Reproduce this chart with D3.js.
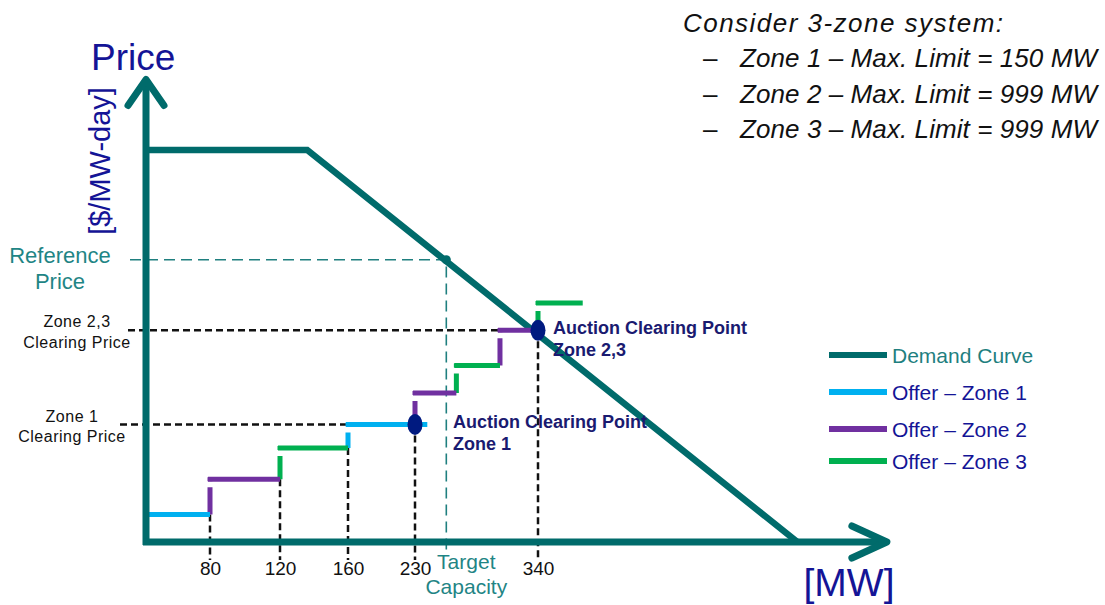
<!DOCTYPE html>
<html>
<head>
<meta charset="utf-8">
<script src="https://cdn.jsdelivr.net/npm/d3@7/dist/d3.min.js"></script>
<style>
  body { margin: 0; background: #fff; }
  text { font-family: "Liberation Sans", Arial, sans-serif; }
</style>
</head>
<body>
<svg width="1105" height="605"></svg>
<script>
// x positions are schematic (not to scale), so the MW scale is piecewise
var tickMW = [80, 120, 160, 230, 340];

// offer curve steps
var stepFrom = [0, 80, 120, 160, 230, 267, 306, 340];
var stepTo = [80, 120, 160, 241, 267, 306, 340, 380];
var stepPrice = [7, 16, 24, 30, 38, 45, 54, 61];
var stepZone = [1, 2, 3, 1, 2, 3, 2, 3];

// demand curve (VRR style)
var demandMW = [0, 136, 572];
var demandPrice = [100, 100, 0];

var refMW = 258, refPrice = 72;
var clearMW = [230, 340], clearPrice = [30, 54];
var dropPrice = [7, 16, 24, 30, 54];

var legendNames = ["Demand Curve", "Offer \u2013 Zone 1", "Offer \u2013 Zone 2", "Offer \u2013 Zone 3"];
var zoneLines = ["Zone 1 \u2013 Max. Limit = 150 MW", "Zone 2 \u2013 Max. Limit = 999 MW", "Zone 3 \u2013 Max. Limit = 999 MW"];

var teal = "#006b6b", navy = "#141496";
var zoneColor = { 1: "#00b0f0", 2: "#7030a0", 3: "#00b050" };

var svg = d3.select("svg");

var x = d3.scaleLinear()
  .domain([0, 80, 120, 160, 230, 340])
  .range([146, 210, 280, 348, 415, 538]);
var y = d3.scaleLinear().domain([0, 100]).range([542, 150]);

var xEnd = 652, yTop = 118;

// reference price / target capacity guides
svg.append("path")
  .attr("d", "M" + (x(0) - 16) + "," + y(refPrice) + "H" + x(refMW) + "V" + (y(0) + 14))
  .attr("fill", "none").attr("stroke", "#1f7f7f").attr("stroke-width", 1.6)
  .attr("stroke-dasharray", "11,6");

// clearing price guides
svg.append("line")
  .attr("x1", x(0) - 26).attr("x2", x(160))
  .attr("y1", y(clearPrice[0])).attr("y2", y(clearPrice[0]))
  .attr("stroke", "#111").attr("stroke-width", 2.5).attr("stroke-dasharray", "7,4");
svg.append("line")
  .attr("x1", x(0) - 18).attr("x2", x(306))
  .attr("y1", y(clearPrice[1])).attr("y2", y(clearPrice[1]))
  .attr("stroke", "#111").attr("stroke-width", 2.5).attr("stroke-dasharray", "7,4");

// drop lines to the MW ticks
svg.selectAll(".drop")
  .data(tickMW)
  .enter().append("line")
  .attr("class", "drop")
  .attr("x1", function (d) { return x(d); })
  .attr("x2", function (d) { return x(d); })
  .attr("y1", function (d, i) { return y(dropPrice[i]); })
  .attr("y2", y(0) + 18)
  .attr("stroke", "#111").attr("stroke-width", 2.5).attr("stroke-dasharray", "7,4");

// demand curve
svg.append("path")
  .datum(d3.range(demandMW.length))
  .attr("d", d3.line()
    .x(function (i) { return x(demandMW[i]); })
    .y(function (i) { return y(demandPrice[i]); }))
  .attr("fill", "none").attr("stroke", teal).attr("stroke-width", 6.5);

// offer steps: risers then horizontals
var steps = d3.range(stepFrom.length);
svg.selectAll(".riser")
  .data(steps.slice(1))
  .enter().append("line")
  .attr("class", "riser")
  .attr("x1", function (i) { return x(stepFrom[i]); })
  .attr("x2", function (i) { return x(stepFrom[i]); })
  .attr("y1", function (i) { return y(stepPrice[i - 1]); })
  .attr("y2", function (i) { return y(stepPrice[i]) - 2; })
  .attr("stroke", function (i) { return zoneColor[stepZone[i]]; })
  .attr("stroke-width", 5)
  .attr("stroke-dasharray", function (i) {
    var len = y(stepPrice[i - 1]) - y(stepPrice[i]) + 2;
    return (len - 10) + ",6,4";
  });

svg.selectAll(".step")
  .data(steps)
  .enter().append("line")
  .attr("class", "step")
  .attr("x1", function (i) { return x(stepFrom[i]) - (i ? 2 : 3); })
  .attr("x2", function (i) { return x(stepTo[i]); })
  .attr("y1", function (i) { return y(stepPrice[i]); })
  .attr("y2", function (i) { return y(stepPrice[i]); })
  .attr("stroke", function (i) { return zoneColor[stepZone[i]]; })
  .attr("stroke-width", 5);

// reference point
svg.append("circle")
  .attr("cx", x(refMW)).attr("cy", y(refPrice)).attr("r", 4.5).attr("fill", teal);

// clearing points
svg.selectAll(".clear")
  .data(clearMW)
  .enter().append("ellipse")
  .attr("cx", function (d) { return x(d); })
  .attr("cy", function (d, i) { return y(clearPrice[i]); })
  .attr("rx", 7.5).attr("ry", 10.5)
  .attr("fill", "#001a80");

// axes with open arrow heads
var axisG = svg.append("g").attr("fill", "none").attr("stroke", teal)
  .attr("stroke-width", 7).attr("stroke-linecap", "round").attr("stroke-linejoin", "round");
axisG.append("path")
  .attr("d", "M" + x(0) + "," + (y(0) + 3) + "V" + (y(yTop) + 2))
  .attr("stroke-linecap", "butt");
axisG.append("path")
  .attr("d", "M" + (x(0) - 18) + "," + (y(yTop) + 26) + "L" + x(0) + "," + y(yTop) + "L" + (x(0) + 18) + "," + (y(yTop) + 26));
axisG.append("path")
  .attr("d", "M" + (x(0) - 3) + "," + y(0) + "H" + (x(xEnd) - 2))
  .attr("stroke-linecap", "butt");
axisG.append("path")
  .attr("d", "M" + (x(xEnd) - 35) + "," + (y(0) - 16) + "L" + x(xEnd) + "," + y(0) + "L" + (x(xEnd) - 35) + "," + (y(0) + 16));

// MW tick labels
var xAxis = svg.append("g")
  .attr("transform", "translate(0," + y(0) + ")")
  .call(d3.axisBottom(x).tickValues(tickMW).tickSize(0).tickPadding(20).tickFormat(d3.format("d")));
xAxis.select(".domain").remove();
xAxis.selectAll("text")
  .style("font-family", "'Liberation Sans', Arial, sans-serif")
  .style("font-size", "19px").attr("fill", "#111");

// axis titles
svg.append("text").attr("x", 91).attr("y", 70)
  .attr("font-size", 37).attr("fill", navy).text("Price");
svg.append("text")
  .attr("transform", "translate(110,161) rotate(-90)")
  .attr("text-anchor", "middle").attr("font-size", 29).attr("fill", navy)
  .text("[$/MW-day]");
svg.append("text").attr("x", 849).attr("y", 596).attr("text-anchor", "middle")
  .attr("font-size", 39).attr("fill", navy).text("[MW]");

// left side labels
function twoLines(cx, base, gap, lines, size, color, spacing) {
  svg.append("g").selectAll("text")
    .data(lines)
    .enter().append("text")
    .attr("x", cx).attr("y", function (d, i) { return base + i * gap; })
    .attr("text-anchor", "middle").attr("font-size", size).attr("fill", color)
    .attr("letter-spacing", spacing || 0)
    .text(function (d) { return d; });
}
twoLines(60, 263, 26, ["Reference", "Price"], 22, "#1f8585");
twoLines(77, 327, 21, ["Zone 2,3", "Clearing Price"], 16, "#111", 0.5);
twoLines(72, 422, 20, ["Zone 1", "Clearing Price"], 16, "#111", 0.5);
twoLines(x(refMW) + 20, 569, 25, ["Target", "Capacity"], 21, "#1f8585");

// clearing point notes
function note(px, base, lines) {
  svg.append("g").selectAll("text")
    .data(lines)
    .enter().append("text")
    .attr("x", px).attr("y", function (d, i) { return base + i * 22; })
    .attr("font-size", 18).attr("font-weight", "bold").attr("fill", "#1a1a70")
    .text(function (d) { return d; });
}
note(x(clearMW[0]) + 38, 428, ["Auction Clearing Point", "Zone 1"]);
note(x(clearMW[1]) + 15, 334, ["Auction Clearing Point", "Zone 2,3"]);

// legend
var legendColors = [teal, zoneColor[1], zoneColor[2], zoneColor[3]];
var legendY = [355, 392, 429, 461];
var leg = svg.append("g").selectAll("g")
  .data(legendNames)
  .enter().append("g")
  .attr("transform", function (d, i) { return "translate(829," + legendY[i] + ")"; });
leg.append("line").attr("x1", 0).attr("x2", 58)
  .attr("stroke", function (d, i) { return legendColors[i]; }).attr("stroke-width", 6);
leg.append("text").attr("x", 63).attr("y", 8).attr("font-size", 21)
  .attr("fill", function (d, i) { return i ? navy : "#1f7f7f"; })
  .text(function (d) { return d; });

// system notes, top right
svg.append("text").attr("x", 683).attr("y", 32)
  .attr("font-size", 26).attr("font-style", "italic").attr("fill", "#111")
  .attr("textLength", 320).attr("lengthAdjust", "spacing")
  .text("Consider 3-zone system:");
var zl = svg.append("g").selectAll("g")
  .data(zoneLines)
  .enter().append("g")
  .attr("transform", function (d, i) { return "translate(0," + [67, 103, 138][i] + ")"; });
zl.append("text").attr("x", 703).attr("font-size", 26).attr("fill", "#111").text("\u2013");
zl.append("text").attr("x", 740).attr("font-size", 26).attr("font-style", "italic")
  .attr("fill", "#111").attr("textLength", 357).attr("lengthAdjust", "spacing")
  .text(function (d) { return d; });
</script>
</body>
</html>
